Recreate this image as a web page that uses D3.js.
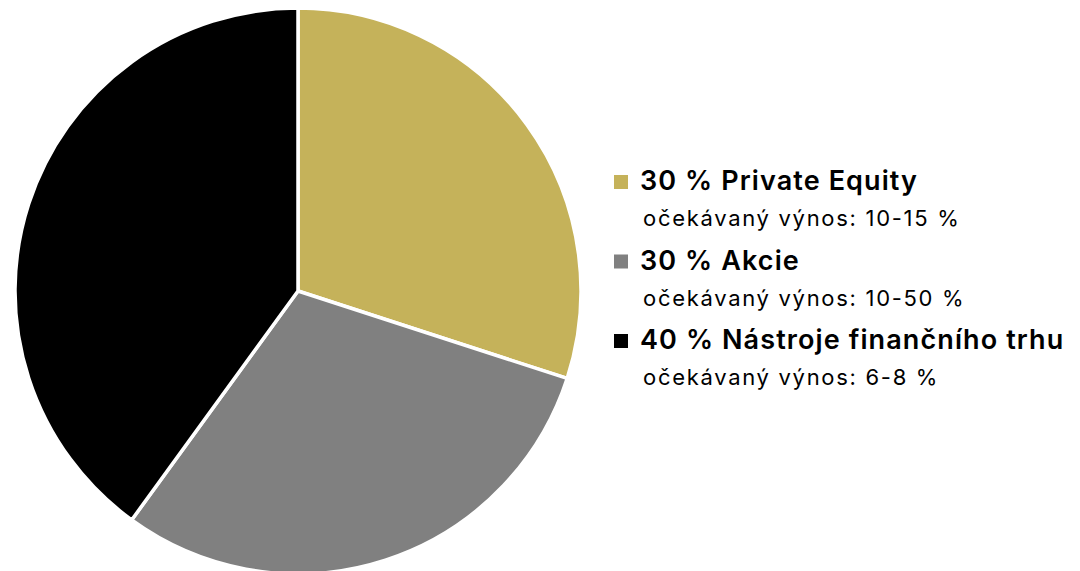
<!DOCTYPE html>
<html>
<head>
<meta charset="utf-8">
<script src="https://cdn.jsdelivr.net/npm/d3@7"></script>
<style>
  body { margin: 0; background: #fff; }
  svg { display: block; }
</style>
</head>
<body>
<div id="chart"></div>
<script>
var w = 1080;
var h = 571;

// podíly portfolia
var labels = ["Private Equity", "Akcie", "Nástroje finančního trhu"];
var shares = [30, 30, 40];
var yields = ["10-15 %", "10-50 %", "6-8 %"];
var colors = ["#c5b25a", "#808080", "#000000"];

var svg = d3.select("#chart")
    .append("svg")
    .attr("width", w)
    .attr("height", h);

var cx = 298, cy = 291, r = 283;

var pie = d3.pie().sort(null).value(function(d) { return d; });
var arc = d3.arc().innerRadius(0).outerRadius(r);

svg.append("g")
    .attr("transform", "translate(" + cx + "," + cy + ")")
    .selectAll("path")
    .data(pie(shares))
    .enter()
    .append("path")
    .attr("d", arc)
    .attr("fill", function(d, i) { return colors[i]; })
    .attr("stroke", "#fff")
    .attr("stroke-width", 3.5)
    .attr("stroke-linejoin", "round");

// legenda
var legend = svg.append("g").attr("transform", "translate(614,0)");

var rows = legend.selectAll("g")
    .data(labels)
    .enter()
    .append("g")
    .attr("transform", function(d, i) { return "translate(0," + (190 + i * 79.5) + ")"; });

rows.append("rect")
    .attr("x", 0)
    .attr("y", -15)
    .attr("width", 14)
    .attr("height", 14)
    .attr("fill", function(d, i) { return colors[i]; });

rows.append("text")
    .attr("x", 26)
    .attr("y", 0)
    .attr("font-family", "Inter, sans-serif")
    .attr("font-weight", 600)
    .attr("font-size", 27)
    .attr("letter-spacing", 1.1)
    .attr("fill", "#000")
    .text(function(d, i) { return shares[i] + " % " + d; });

rows.append("text")
    .attr("x", 29)
    .attr("y", 36)
    .attr("font-family", "Inter, sans-serif")
    .attr("font-weight", 400)
    .attr("font-size", 22)
    .attr("letter-spacing", 1.7)
    .attr("fill", "#000")
    .text(function(d, i) { return "očekávaný výnos: " + yields[i]; });
</script>
</body>
</html>
